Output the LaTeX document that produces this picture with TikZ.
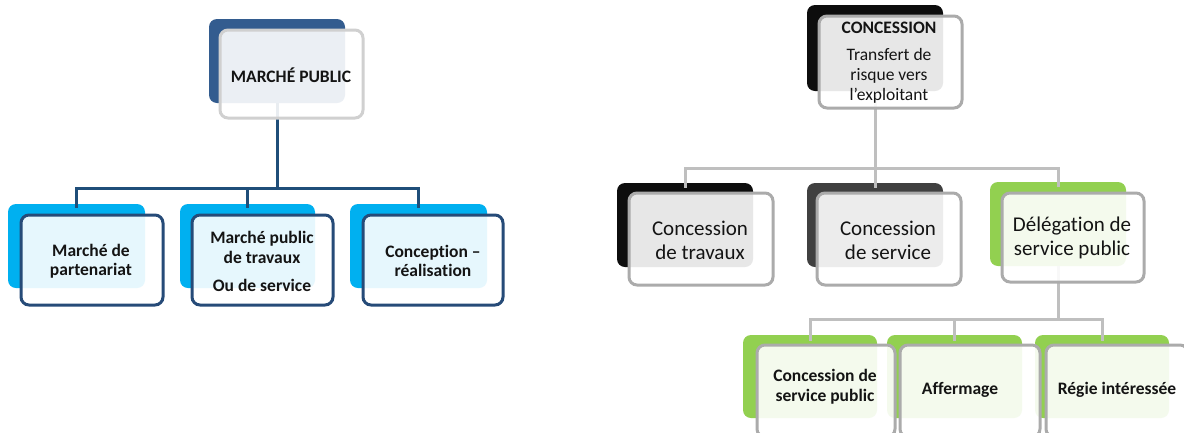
\documentclass[tikz,border=0pt]{standalone}
\usepackage{fontspec}
\setmainfont{Carlito}[RawFeature={-liga;-clig;-calt;-dlig}]
\definecolor{navyback}{HTML}{335C8F}
\definecolor{navyline}{HTML}{1F4E79}
\definecolor{navyedge}{HTML}{264B78}
\definecolor{cyanback}{HTML}{00B0F0}
\definecolor{lightedge}{HTML}{D0D0D0}
\definecolor{grayedge}{HTML}{ABABAB}
\definecolor{grayline}{HTML}{BFBFBF}
\definecolor{blackback}{HTML}{0D0D0D}
\definecolor{darkback}{HTML}{404040}
\definecolor{greenback}{HTML}{92D050}
\definecolor{txt}{HTML}{141414}
\tikzset{
  backbox/.style={rectangle, rounded corners=8pt, inner sep=0pt, minimum width=136pt, minimum height=84pt, fill=#1},
  frontbox/.style={rectangle, rounded corners=8pt, inner sep=0pt, minimum width=142pt, minimum height=90pt, draw=#1, line width=3pt, fill=white, fill opacity=0.9, draw opacity=1},
  boldtxt/.style={inner sep=0pt, align=center, text=txt, font=\bfseries\fontsize{17.5}{19.5}\selectfont},
  regtxt/.style={inner sep=0pt, align=center, text=txt, font=\fontsize{21}{24}\selectfont},
  toptxt/.style={inner sep=0pt, align=center, text=txt, font=\fontsize{17.5}{20}\selectfont},
  navyconn/.style={draw=navyline, line width=3pt},
  grayconn/.style={draw=grayline, line width=3pt},
}
\begin{document}
\begin{tikzpicture}[x=1pt,y=-1pt]
\clip (0,0) rectangle (1184,432);
\fill[white] (0,0) rectangle (1184,432);
% ---------- back boxes
\node[backbox=navyback, minimum height=84pt] (mpB) at (277,61) {};
\node[backbox=cyanback, minimum width=137pt] (l1B) at (76.5,246) {};
\node[backbox=cyanback, minimum width=135pt] (l2B) at (247.5,246) {};
\node[backbox=cyanback, minimum width=137pt] (l3B) at (418.5,246) {};
\node[backbox=blackback, minimum height=86pt] (cB) at (875,48) {};
\node[backbox=blackback] (aB) at (685,225) {};
\node[backbox=darkback] (bB) at (875,225) {};
\node[backbox=greenback] (gB) at (1058,224) {};
\node[backbox=greenback, minimum width=134pt, minimum height=83pt] (dB) at (810,376.5) {};
\node[backbox=greenback, minimum width=135pt, minimum height=83pt] (eB) at (954.5,376.5) {};
\node[backbox=greenback, minimum width=134pt, minimum height=83pt] (fB) at (1102,376.5) {};
% ---------- connectors (behind the front boxes)
\coordinate (mpJ) at (277,188);
\draw[navyconn] (mpB.south) -- (mpJ);
\draw[navyconn] ([yshift=-4pt]l1B.north) |- (mpJ) -| ([yshift=-4pt]l3B.north);
\draw[navyconn] (l2B.north |- mpJ) -- ([yshift=-4pt]l2B.north);
\coordinate (cJ) at (875,168);
\draw[grayconn] (cB.south) -- (cJ);
\draw[grayconn] ([yshift=-5pt]aB.north) |- (cJ) -| ([yshift=-5pt]gB.north);
\draw[grayconn] (bB.north |- cJ) -- ([yshift=-5pt]bB.north);
\coordinate (gJ) at (1058,319);
\draw[grayconn] (gB.south) -- (gJ);
\draw[grayconn] ([yshift=-6pt]dB.north) |- (gJ) -| ([yshift=-6pt]fB.north);
\draw[grayconn] (eB.north |- gJ) -- ([yshift=-6pt]eB.north);
% ---------- front boxes
\node[frontbox=lightedge, minimum width=143pt, minimum height=88pt] (mpF) at (291.5,74) {};
\node[frontbox=navyedge] (l1F) at (92,260) {};
\node[frontbox=navyedge, minimum width=141pt] (l2F) at (262.5,260) {};
\node[frontbox=navyedge, minimum width=140pt] (l3F) at (433,260) {};
\node[frontbox=grayedge, minimum width=143pt, minimum height=92pt] (cF) at (890.5,62) {};
\node[frontbox=grayedge, minimum width=144pt, minimum height=92pt] (aF) at (701,239) {};
\node[frontbox=grayedge, minimum width=144pt, minimum height=92pt] (bF) at (889,239) {};
\node[frontbox=grayedge, minimum width=142pt, minimum height=89pt] (gF) at (1073,237.5) {};
\node[frontbox=grayedge, minimum width=138pt, minimum height=92pt] (dF) at (826,391) {};
\node[frontbox=grayedge, minimum width=140pt, minimum height=92pt] (eF) at (970,391) {};
\node[frontbox=grayedge, minimum width=142pt, minimum height=92pt] (fF) at (1117,391) {};
% ---------- texts
\node[boldtxt] (mpT) at (291,75) {MARCHÉ PUBLIC};
\node[boldtxt] (l1T) at (91,261) {Marché de\\partenariat};
\node[boldtxt] (l2T) at (262,261.5) {Marché public\\de travaux\\[9pt]Ou de service};
\node[boldtxt] (l3T) at (433,261) {Concept\kern0pt ion –\\réalisation};
\node[toptxt, anchor=center] (cT) at (889,63) {\textbf{CONCESSION}\\[7pt]Transfert de\\risque vers\\l’exploitant};
\node[regtxt] (aT) at (700,240) {Concession\\de travaux};
\node[regtxt] (bT) at (888,240) {Concession\\de service};
\node[regtxt] (gT) at (1072,237.5) {Délégat\kern0pt ion de\\service public};
\node[boldtxt] (dT) at (825,386.5) {Concession de\\service public};
\node[boldtxt] (eT) at (960,390) {Affermage};
\node[boldtxt] (fT) at (1117,390) {Régie intéressée};
\end{tikzpicture}
\end{document}
